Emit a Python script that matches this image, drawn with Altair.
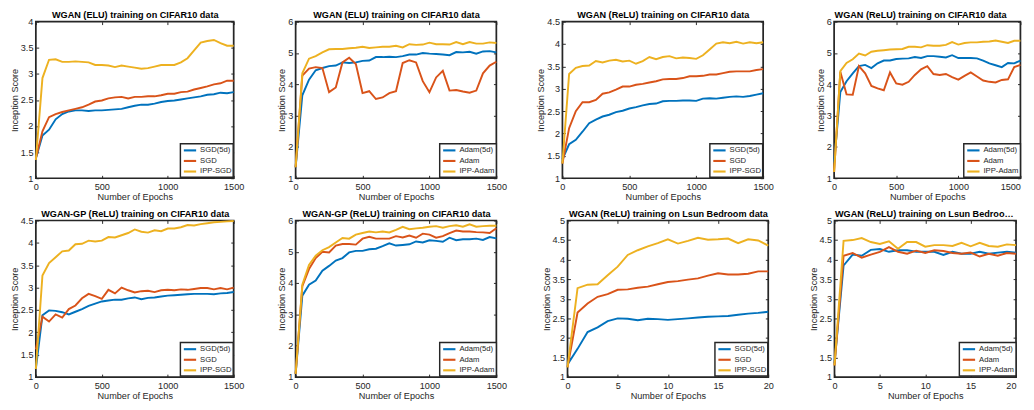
import altair as alt
import pandas as pd

# ---------------- data ----------------
EP_CIFAR = list(range(0, 1501, 50))
EP_LSUN = list(range(0, 21))

SGD_NAMES = ["SGD(5d)", "SGD", "IPP-SGD"]
ADAM_NAMES = ["Adam(5d)", "Adam", "IPP-Adam"]

TITLES = [
    "WGAN (ELU) training on CIFAR10 data",
    "WGAN (ELU) training on CIFAR10 data",
    "WGAN (ReLU) training on CIFAR10 data",
    "WGAN (ReLU) training on CIFAR10 data",
    "WGAN-GP (ReLU) training on CIFAR10 data",
    "WGAN-GP (ReLU) training on CIFAR10 data",
    "WGAN (ReLU) training on Lsun Bedroom data",
    "WGAN (ReLU) training on Lsun Bedroom data",
]

# Panel 1: WGAN (ELU), SGD
p1_sgd5d = [1.38, 1.82, 1.93, 2.13, 2.23, 2.28, 2.30, 2.30, 2.29, 2.30, 2.30, 2.31, 2.32, 2.33, 2.36, 2.39,
            2.41, 2.41, 2.43, 2.46, 2.48, 2.49, 2.51, 2.53, 2.55, 2.57, 2.60, 2.61, 2.64, 2.63, 2.65]
p1_sgd = [1.38, 1.90, 2.17, 2.23, 2.27, 2.30, 2.33, 2.36, 2.41, 2.47, 2.49, 2.53, 2.55, 2.56, 2.53, 2.56,
          2.56, 2.57, 2.57, 2.59, 2.62, 2.62, 2.65, 2.66, 2.70, 2.73, 2.76, 2.80, 2.82, 2.87, 2.87]
p1_ipp = [1.35, 2.92, 3.27, 3.28, 3.23, 3.23, 3.24, 3.23, 3.22, 3.17, 3.17, 3.16, 3.13, 3.16, 3.14, 3.12,
          3.10, 3.11, 3.14, 3.17, 3.17, 3.17, 3.22, 3.30, 3.45, 3.60, 3.63, 3.65, 3.59, 3.54, 3.54]

# Panel 2: WGAN (ELU), Adam
p2_adam5d = [1.35, 3.65, 4.15, 4.45, 4.52, 4.58, 4.60, 4.70, 4.68, 4.70, 4.75, 4.76, 4.87, 4.87, 4.88, 4.87,
             4.90, 4.95, 4.95, 5.00, 4.98, 4.97, 4.95, 4.93, 5.03, 5.02, 5.04, 4.98, 5.05, 5.06, 5.02]
p2_adam = [1.35, 4.28, 4.50, 4.55, 4.52, 3.75, 3.90, 4.70, 4.85, 4.65, 3.72, 3.78, 3.53, 3.58, 3.72, 3.78,
           4.68, 4.77, 4.70, 4.10, 3.75, 4.22, 4.43, 3.80, 3.82, 3.77, 3.73, 3.80, 4.35, 4.60, 4.72]
p2_ipp = [1.35, 4.35, 4.82, 4.90, 5.02, 5.12, 5.13, 5.13, 5.15, 5.17, 5.20, 5.16, 5.18, 5.20, 5.20, 5.23,
          5.18, 5.28, 5.26, 5.27, 5.33, 5.28, 5.28, 5.27, 5.35, 5.28, 5.35, 5.30, 5.30, 5.34, 5.32]

# Panel 3: WGAN (ReLU), SGD
p3_sgd5d = [1.42, 1.76, 1.86, 2.04, 2.23, 2.31, 2.38, 2.42, 2.48, 2.51, 2.56, 2.59, 2.63, 2.66, 2.67, 2.72,
            2.73, 2.73, 2.74, 2.74, 2.73, 2.78, 2.79, 2.78, 2.80, 2.82, 2.83, 2.82, 2.84, 2.87, 2.90]
p3_sgd = [1.33, 2.12, 2.50, 2.70, 2.70, 2.75, 2.89, 2.92, 2.98, 3.05, 3.05, 3.09, 3.11, 3.14, 3.17, 3.21,
          3.22, 3.22, 3.24, 3.28, 3.28, 3.29, 3.32, 3.32, 3.35, 3.38, 3.39, 3.39, 3.39, 3.42, 3.44]
p3_ipp = [1.33, 3.33, 3.47, 3.51, 3.52, 3.62, 3.59, 3.63, 3.65, 3.61, 3.63, 3.56, 3.62, 3.71, 3.66, 3.71,
          3.73, 3.68, 3.70, 3.69, 3.67, 3.75, 3.88, 4.01, 4.04, 4.02, 4.05, 4.01, 4.04, 4.02, 4.04]

# Panel 4: WGAN (ReLU), Adam
p4_adam5d = [1.50, 3.75, 4.10, 4.35, 4.58, 4.62, 4.52, 4.67, 4.76, 4.76, 4.81, 4.82, 4.83, 4.87, 4.84, 4.90,
             4.90, 4.88, 4.86, 4.93, 4.84, 4.84, 4.84, 4.83, 4.76, 4.67, 4.61, 4.55, 4.68, 4.67, 4.76]
p4_adam = [1.20, 4.40, 3.68, 3.67, 4.58, 4.35, 3.95, 3.87, 3.81, 4.38, 4.03, 3.99, 4.08, 4.30, 4.48, 4.58,
           4.33, 4.30, 4.33, 4.23, 4.15, 4.27, 4.38, 4.25, 4.12, 4.08, 4.06, 4.14, 4.16, 4.55, 4.62]
p4_ipp = [1.20, 4.42, 4.68, 4.80, 4.98, 4.92, 5.04, 5.07, 5.09, 5.11, 5.12, 5.13, 5.20, 5.20, 5.18, 5.25,
          5.23, 5.23, 5.26, 5.35, 5.27, 5.32, 5.34, 5.34, 5.36, 5.37, 5.40, 5.36, 5.32, 5.39, 5.39]

# Panel 5: WGAN-GP (ReLU), SGD
p5_sgd5d = [1.18, 2.38, 2.49, 2.48, 2.45, 2.40, 2.46, 2.52, 2.59, 2.64, 2.69, 2.71, 2.73, 2.73, 2.76, 2.78,
            2.74, 2.77, 2.78, 2.80, 2.82, 2.83, 2.84, 2.85, 2.86, 2.86, 2.86, 2.85, 2.87, 2.88, 2.90]
p5_sgd = [1.62, 2.35, 2.24, 2.40, 2.33, 2.52, 2.60, 2.76, 2.86, 2.81, 2.75, 2.95, 2.87, 3.00, 2.94, 2.89,
          2.92, 2.93, 2.90, 2.94, 2.95, 2.94, 2.96, 2.95, 2.97, 2.99, 2.99, 2.96, 2.99, 2.96, 3.00]
p5_ipp = [1.18, 3.27, 3.55, 3.68, 3.81, 3.83, 3.97, 3.98, 4.05, 4.03, 4.05, 4.13, 4.12, 4.17, 4.22, 4.30,
          4.25, 4.23, 4.28, 4.26, 4.32, 4.32, 4.35, 4.40, 4.39, 4.42, 4.44, 4.46, 4.47, 4.48, 4.49]

# Panel 6: WGAN-GP (ReLU), Adam
p6_adam5d = [1.10, 3.60, 3.95, 4.08, 4.40, 4.55, 4.72, 4.80, 4.98, 5.03, 5.03, 5.08, 5.10, 5.18, 5.27, 5.20,
             5.22, 5.24, 5.33, 5.30, 5.37, 5.35, 5.32, 5.45, 5.37, 5.40, 5.40, 5.42, 5.38, 5.47, 5.43]
p6_adam = [1.10, 3.90, 4.45, 4.80, 5.00, 4.98, 5.20, 5.25, 5.25, 5.23, 5.42, 5.48, 5.42, 5.42, 5.42, 5.50,
           5.46, 5.52, 5.45, 5.58, 5.55, 5.45, 5.50, 5.60, 5.68, 5.65, 5.65, 5.63, 5.62, 5.60, 5.75]
p6_ipp = [1.10, 3.95, 4.58, 4.88, 5.05, 5.15, 5.30, 5.44, 5.42, 5.55, 5.60, 5.65, 5.62, 5.65, 5.62, 5.70,
          5.80, 5.72, 5.75, 5.77, 5.80, 5.82, 5.77, 5.82, 5.85, 5.80, 5.88, 5.80, 5.82, 5.83, 5.83]

# Panel 7: WGAN (ReLU) Lsun, SGD
p7_sgd5d = [1.32, 1.72, 2.15, 2.27, 2.43, 2.50, 2.49, 2.45, 2.49, 2.48, 2.46, 2.48, 2.50, 2.52, 2.54, 2.55,
            2.56, 2.59, 2.62, 2.64, 2.67]
p7_sgd = [1.25, 2.65, 2.88, 3.05, 3.12, 3.23, 3.24, 3.28, 3.31, 3.37, 3.43, 3.45, 3.49, 3.52, 3.59, 3.65,
          3.62, 3.62, 3.64, 3.70, 3.70]
p7_ipp = [1.25, 3.27, 3.36, 3.37, 3.60, 3.82, 4.12, 4.24, 4.34, 4.42, 4.52, 4.41, 4.48, 4.56, 4.51, 4.52,
          4.54, 4.42, 4.52, 4.49, 4.36]

# Panel 8: WGAN (ReLU) Lsun, Adam
p8_adam5d = [1.35, 3.85, 4.13, 4.10, 4.25, 4.27, 4.20, 4.24, 4.24, 4.20, 4.20, 4.20, 4.12, 4.20, 4.15, 4.15,
             4.20, 4.15, 4.18, 4.20, 4.18]
p8_adam = [1.30, 4.10, 4.17, 4.05, 4.13, 4.20, 4.32, 4.20, 4.15, 4.23, 4.17, 4.24, 4.22, 4.17, 4.15, 4.18,
           4.08, 4.15, 4.10, 4.17, 4.15]
p8_ipp = [1.30, 4.48, 4.50, 4.55, 4.45, 4.40, 4.47, 4.28, 4.45, 4.45, 4.33, 4.37, 4.37, 4.35, 4.43, 4.34,
          4.43, 4.35, 4.33, 4.39, 4.37]

X_TICKS_CIFAR = [0, 500, 1000, 1500]
X_TICKS_LSUN = [0, 5, 10, 15, 20]
Y_TICKS_40 = [1, 1.5, 2, 2.5, 3, 3.5, 4]
Y_TICKS_45 = [1, 1.5, 2, 2.5, 3, 3.5, 4, 4.5]
Y_TICKS_50 = [1, 1.5, 2, 2.5, 3, 3.5, 4, 4.5, 5]
Y_TICKS_60 = [1, 2, 3, 4, 5, 6]

# ---------------- style ----------------
COLORS = ["#0072BD", "#D95319", "#EDB120"]
FONT = "Liberation Sans"
TXT = "#262626"
H = 163
TICK = 3


def panel(title, epochs, names, series, yticks, xticks, width, legend_w, edge=False):
    rows = []
    for name, vals in zip(names, series):
        assert len(vals) == len(epochs), (title, name, len(vals))
        for e, v in zip(epochs, vals):
            rows.append({"Epoch": e, "Score": v, "Method": name})
    df = pd.DataFrame(rows)
    xscale = alt.Scale(domain=[0, epochs[-1]], nice=False, zero=False)
    yscale = alt.Scale(domain=[yticks[0], yticks[-1]], nice=False, zero=False)
    xaxis_kw = dict(values=xticks, title="Number of Epochs", orient="bottom", offset=-TICK,
                    tickSize=TICK, labelPadding=4, domain=False, grid=False, labelFlush=False,
                    titlePadding=0.5, format="d")
    top_kw = dict(values=xticks, orient="top", labels=False, title=title, offset=-TICK,
                  tickSize=TICK, domain=False, grid=False, titlePadding=1.5,
                  titleFontWeight="bold", titleColor="black", titleFontSize=9.5)
    if edge:
        # rightmost panels touch the page edge: keep the last label / title inside the page
        xaxis_kw["labelAlign"] = {"condition": {"test": f"datum.value == {xticks[-1]}", "value": "right"},
                                  "value": "center"}
        top_kw["titleAnchor"] = "start"
        top_kw["titleLimit"] = width
    lines = alt.Chart(df).mark_line(strokeWidth=2).encode(
        x=alt.X("Epoch:Q", scale=xscale, axis=alt.Axis(**xaxis_kw)),
        y=alt.Y("Score:Q", scale=yscale,
                axis=alt.Axis(values=yticks, title="Inception Score", orient="left", offset=-TICK,
                              tickSize=TICK, labelPadding=3, domain=False, grid=False, labelFlush=False,
                              titlePadding=1, format=".1~f")),
        color=alt.Color("Method:N",
                        scale=alt.Scale(domain=names, range=COLORS),
                        sort=names,
                        legend=alt.Legend(title=None, orient="none",
                                          legendX=width - 3.5 - legend_w, legendY=H - 36,
                                          fillColor="white", strokeColor=TXT, padding=1.5,
                                          rowPadding=1, symbolType="M-1.6,0H1.6", symbolSize=64,
                                          symbolOffset=3, symbolStrokeWidth=2.2, labelFont=FONT,
                                          labelFontSize=8, labelColor=TXT, labelOffset=5)),
    )
    ticks = alt.Chart(df).mark_line(strokeOpacity=0).encode(
        x=alt.X("Epoch:Q", scale=xscale, axis=alt.Axis(**top_kw)),
        y=alt.Y("Score:Q", scale=yscale,
                axis=alt.Axis(values=yticks, orient="right", labels=False, title=None, offset=-TICK,
                              tickSize=TICK, domain=False, grid=False)),
        detail="Method:N",
    )
    return (
        alt.layer(lines, ticks)
        .resolve_axis(x="independent", y="independent")
        .properties(width=width, height=H)
    )


LW_SGD, LW_ADAM = 52, 55.5

p1 = panel(TITLES[0], EP_CIFAR, SGD_NAMES, [p1_sgd5d, p1_sgd, p1_ipp], Y_TICKS_40, X_TICKS_CIFAR, 206, LW_SGD)
p2 = panel(TITLES[1], EP_CIFAR, ADAM_NAMES, [p2_adam5d, p2_adam, p2_ipp], Y_TICKS_60, X_TICKS_CIFAR, 209, LW_ADAM)
p3 = panel(TITLES[2], EP_CIFAR, SGD_NAMES, [p3_sgd5d, p3_sgd, p3_ipp], Y_TICKS_45, X_TICKS_CIFAR, 209, LW_SGD)
p4 = panel(TITLES[3], EP_CIFAR, ADAM_NAMES, [p4_adam5d, p4_adam, p4_ipp], Y_TICKS_60, X_TICKS_CIFAR, 194, LW_ADAM,
           edge=True)
p5 = panel(TITLES[4], EP_CIFAR, SGD_NAMES, [p5_sgd5d, p5_sgd, p5_ipp], Y_TICKS_45, X_TICKS_CIFAR, 206, LW_SGD)
p6 = panel(TITLES[5], EP_CIFAR, ADAM_NAMES, [p6_adam5d, p6_adam, p6_ipp], Y_TICKS_60, X_TICKS_CIFAR, 209, LW_ADAM)
p7 = panel(TITLES[6], EP_LSUN, SGD_NAMES, [p7_sgd5d, p7_sgd, p7_ipp], Y_TICKS_50, X_TICKS_LSUN, 209, LW_SGD)
p8 = panel(TITLES[7], EP_LSUN, ADAM_NAMES, [p8_adam5d, p8_adam, p8_ipp], Y_TICKS_50, X_TICKS_LSUN, 189, LW_ADAM,
           edge=True)


def hc(a, b, sp):
    return alt.hconcat(a, b, spacing=sp).resolve_scale(color="independent")


row1 = hc(hc(hc(p1, p2, 31.5), p3, 28.3), p4, 41.2)
row2 = hc(hc(hc(p5, p6, 31.5), p7, 33.6), p8, 33.6)

chart = (
    alt.vconcat(row1, row2, spacing=6)
    .resolve_scale(color="independent")
    .properties(padding={"left": 0, "top": -7, "right": 0, "bottom": 0}, background="white")
    .configure_view(stroke=TXT, strokeWidth=1.8)
    .configure_axis(labelFont=FONT, labelFontSize=9.5, labelColor=TXT, titleFont=FONT,
                    titleFontSize=9.5, titleColor=TXT, titleFontWeight="normal",
                    tickColor=TXT, tickWidth=1, minExtent=0)
    .configure_legend(strokeWidth=1.5)
)

chart.save("out.html", embed_options={"renderer": "svg", "actions": False})
